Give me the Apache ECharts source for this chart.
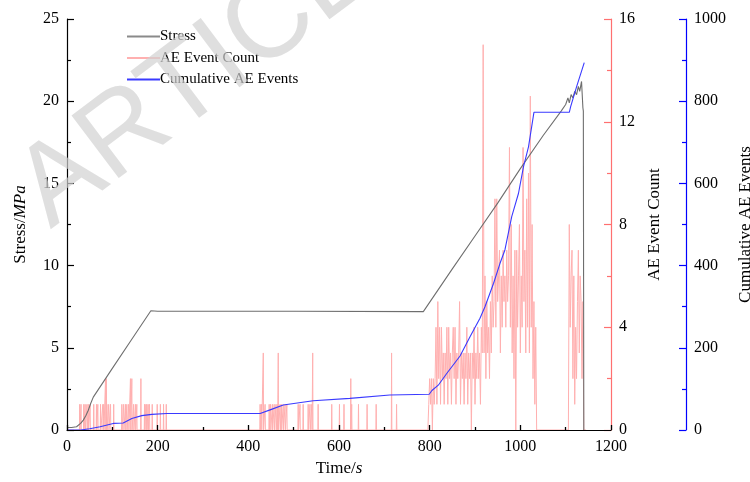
<!DOCTYPE html>
<html><head><meta charset="utf-8">
<script src="https://cdn.jsdelivr.net/npm/echarts@6/dist/echarts.min.js"></script>
<style>html,body{margin:0;padding:0;background:#fff}#c{width:750px;height:482px}</style>
</head><body><div id="c"></div>
<script>
// ---- Data ----
const stressTime  = [0,10,21,30,36,42,47,52,58,100,140,185,200,500,786,850,900,950,1000,1050,1090,1100,1105,1108,1112,1116,1120,1124,1128,1131,1135,1137,1138,1139,1140];
const stressValue = [0.15,0.15,0.2,0.4,0.6,0.9,1.2,1.6,2.0,3.75,5.4,7.25,7.22,7.22,7.2,9.8,11.8,13.8,15.9,17.9,19.4,19.8,20.2,19.9,20.4,20.2,20.6,20.4,20.9,20.6,21.2,21.3,19.6,19.4,0];

const cumTime  = [0,30,50,73,102,124,143,165,187,220,426,448,477,543,624,712,799,805,819,838,867,889,911,922,941,955,966,981,996,1007,1018,1030,1108,1111,1124,1141];
const cumValue = [0,0,3,8,16,17,28,35,38,40,40,49,61,71,77,85,87,96,109,138,180,227,272,300,357,405,438,519,576,641,689,773,773,787,835,894];

const aeSparseTime  = [28,31,37,40,44,47,51,59,65,68,74,79,81,85,87,88,92,96,103,121,125,129,132,136,140,143,147,151,154,163,171,174,176,179,182,188,199,206,213,219,
  426,429,433,437,446,449,453,457,461,464,466,470,473,477,481,485,510,514,521,532,536,540,542,554,584,601,611,626,628,643,662,682,716,727];
const aeSparseCount = [1,1,1,1,1,1,1,1,1,1,1,1,1,2,2,1,1,1,1,1,1,1,1,1,2,2,1,1,1,2,1,1,1,1,1,1,1,1,1,1,
  1,1,3,1,1,1,1,1,1,1,3,1,1,1,1,1,1,1,1,1,1,1,3,1,1,1,1,2,1,1,1,1,3,1];

const aeBurstTime  = [796,798,800,802,804,806,808,810,812,814,816,818,820,822,824,826,828,830,832,834,836,838,840,842,844,846,848,850,852,854,856,858,860,862,864,866,868,870,872,874,876,878,880,882,884,886,888,890,892,894,896,898,900,902,904,906,908,910,912,914,916,918,920,922,924,926,928,930,932,934,936,938,940,942,944,946,948,950,952,954,956,958,960,962,964,966,968,970,972,974,976,978,980,982,984,986,988,990,992,994,996,998,1000,1002,1004,1006,1008,1010,1012,1014,1016,1018,1020,1022,1024,1026,1028,1030,1032,1034,1036,
  1106,1108,1110,1112,1114,1116,1118,1120,1122,1124,1126,1128,1130,1132,1134,1136,1138,1140];
const aeBurstCount = [0,1,2,1,2,0,2,1,2,4,1,5,2,4,1,4,2,3,1,3,2,4,1,4,2,3,1,3,4,2,4,1,3,2,3,5,1,3,2,3,1,3,2,4,1,3,2,3,0,3,2,4,1,3,2,4,2,3,1,4,3,15,3,6,2,5,3,4,2,5,3,6,4,5,9,4,9,5,6,7,3,6,4,7,5,6,4,7,5,6,11,4,8,3,6,2,7,0,7,4,6,8,3,6,4,11,5,7,3,9,4,10,3,13,4,8,2,5,1,4,0,
  0,8,4,6,7,2,6,1,4,2,5,7,3,6,5,2,5,0];

const xTicks = {min:0, max:1200, interval:200};
const stressTicks = {min:0, max:25, interval:5};
const aeTicks = {min:0, max:16, interval:4};
const cumTicks = {min:0, max:1000, interval:200};

// ---- Build series data ----
const stressData = stressTime.map((t,i)=>[t, stressValue[i]]);
const cumData = cumTime.map((t,i)=>[t, cumValue[i]]);
let aePts = [[0,0]];
aeSparseTime.forEach((t,i)=>{ aePts.push([t-0.6,0],[t,aeSparseCount[i]],[t+0.6,0]); });
aeBurstTime.forEach((t,i)=>{ aePts.push([t,aeBurstCount[i]]); });
aePts.push([1145,0]);
aePts.sort((a,b)=>a[0]-b[0]);

const FONT = '"Liberation Serif","Times New Roman",serif';
const chart = echarts.init(document.getElementById('c'), null, {renderer:'canvas'});
const plain = v => String(v);

function yAxisCommon(color){
  return {
    type:'value', splitLine:{show:false},
    axisLine:{show:true, lineStyle:{color:color, width:1.2}},
    axisTick:{show:true, inside:true, length:7, lineStyle:{color:color, width:1.2}},
    minorTick:{show:true, splitNumber:2, length:4, lineStyle:{color:color, width:1.2}},
    axisLabel:{color:'#000', fontFamily:FONT, fontSize:16, margin:8, formatter:plain},
    nameLocation:'middle', nameRotate:90,
    nameTextStyle:{color:'#000', fontFamily:FONT, fontSize:17}
  };
}

const option = {
  animation:false,
  backgroundColor:'#fff',
  grid:{left:67, right:139, top:19, bottom:52, containLabel:false, outerBoundsMode:'none'},
  legend:{
    orient:'vertical', left:122, top:24, itemWidth:33, itemHeight:2, itemGap:6.5,
    icon:'rect',
    textStyle:{fontFamily:FONT, fontSize:15, color:'#000', padding:[0,0,0,-5]},
    data:['Stress','AE Event Count','Cumulative AE Events']
  },
  xAxis:{
    type:'value', min:xTicks.min, max:xTicks.max, interval:xTicks.interval, z:5,
    splitLine:{show:false},
    axisLine:{show:true, onZero:false, lineStyle:{color:'#000', width:1.2}},
    axisTick:{show:true, inside:true, length:5, lineStyle:{color:'#000', width:1.3}},
    minorTick:{show:true, splitNumber:2, length:3, lineStyle:{color:'#000', width:1.3}},
    axisLabel:{color:'#000', fontFamily:FONT, fontSize:16, margin:9, formatter:plain},
    name:'{a|Time/}{b|s}', nameLocation:'middle', nameGap:23,
    nameTextStyle:{color:'#000', fontFamily:FONT, fontSize:17,
      rich:{a:{fontFamily:FONT, fontSize:17}, b:{fontFamily:FONT, fontSize:17, fontStyle:'italic'}}}
  },
  yAxis:[
    Object.assign(yAxisCommon('#000'), {
      position:'left', min:stressTicks.min, max:stressTicks.max, interval:stressTicks.interval,
      name:'{a|Stress/}{b|MPa}', nameGap:38,
      nameTextStyle:{color:'#000', fontFamily:FONT, fontSize:17,
        rich:{a:{fontFamily:FONT, fontSize:17}, b:{fontFamily:FONT, fontSize:17, fontStyle:'italic'}}}
    }),
    Object.assign(yAxisCommon('#ff7070'), {
      position:'right', offset:0, min:aeTicks.min, max:aeTicks.max, interval:aeTicks.interval,
      name:'AE Event Count', nameGap:22
    }),
    Object.assign(yAxisCommon('#0000ff'), {
      position:'right', offset:75, min:cumTicks.min, max:cumTicks.max, interval:cumTicks.interval,
      name:'Cumulative AE Events', nameGap:38
    })
  ],
  series:[
    {name:'AE Event Count', type:'line', yAxisIndex:1, data:aePts, symbol:'none', z:2,
      lineStyle:{color:'#ffb0b0', width:1}, itemStyle:{color:'#ffb0b0'}},
    {name:'Stress', type:'line', yAxisIndex:0, data:stressData, symbol:'none', z:3,
      lineStyle:{color:'#6e6e6e', width:1.1}, itemStyle:{color:'#8a8a8a'}},
    {name:'Cumulative AE Events', type:'line', yAxisIndex:2, data:cumData, symbol:'none', z:4,
      lineStyle:{color:'#3a3aff', width:1.1}, itemStyle:{color:'#3a3aff'}}
  ],
  graphic:[{
    type:'text', x:66, y:250, rotation:37*Math.PI/180, z:100, silent:true,
    style:{text:'ARTICLE', fontFamily:'"Liberation Sans",Arial,sans-serif', fontSize:114,
      fill:'rgba(210,210,210,0.7)', textAlign:'left', textVerticalAlign:'bottom'}
  }]
};
chart.setOption(option);
</script></body></html>
